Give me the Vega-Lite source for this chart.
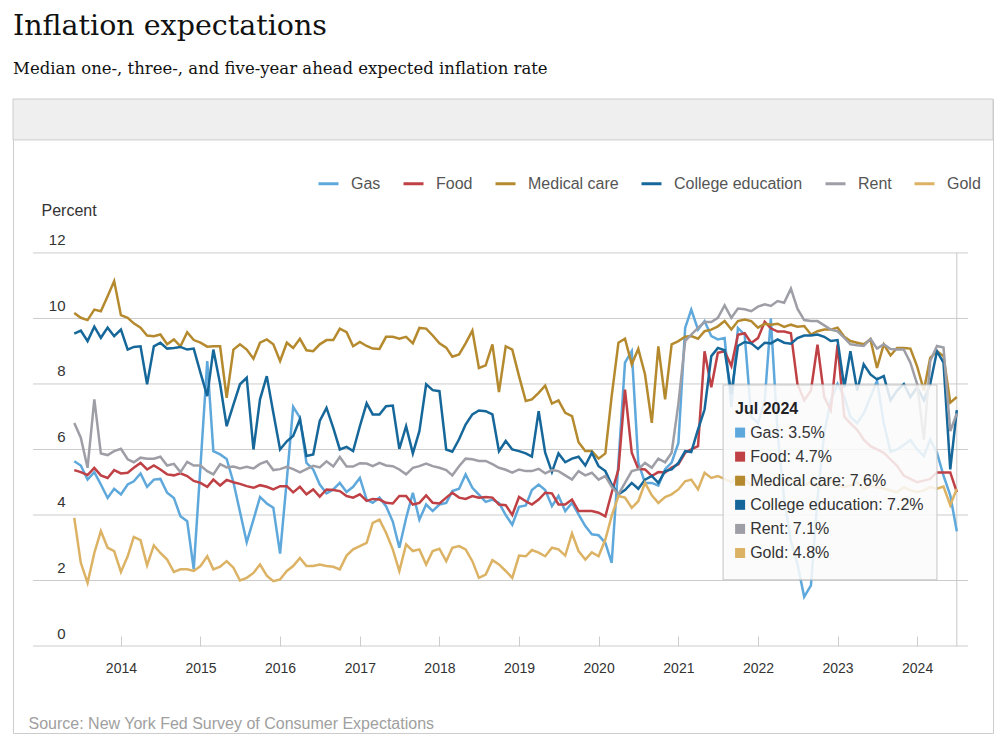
{
  "$schema": "https://vega.github.io/schema/vega-lite/v6.json",
  "description": "Inflation expectations by commodity, NY Fed SCE",
  "autosize": "none",
  "padding": {"left": 13, "top": 99, "right": 6, "bottom": 15},
  "width": 980,
  "height": 634,
  "background": "#ffffff",
  "title": {
    "text": "Inflation expectations",
    "subtitle": "Median one-, three-, and five-year ahead expected inflation rate",
    "anchor": "start",
    "frame": "group",
    "font": "DejaVu Serif",
    "fontSize": 28.5,
    "fontWeight": "normal",
    "color": "#111111",
    "subtitleFont": "DejaVu Serif",
    "subtitleFontSize": 16.5,
    "subtitleColor": "#111111",
    "subtitlePadding": 21,
    "offset": 21
  },
  "config": {"view": {"stroke": "#cccccc", "strokeWidth": 1}, "font": "Liberation Sans"},
  "datasets": {
    "series": [
      {"month": "2013-06", "Gas": 5.64, "Food": 5.37, "Medical care": 10.17, "College education": 9.54, "Rent": 6.81, "Gold": 3.91},
      {"month": "2013-07", "Gas": 5.51, "Food": 5.31, "Medical care": 10.02, "College education": 9.63, "Rent": 6.36, "Gold": 2.54},
      {"month": "2013-08", "Gas": 5.08, "Food": 5.22, "Medical care": 9.95, "College education": 9.31, "Rent": 5.44, "Gold": 1.93},
      {"month": "2013-09", "Gas": 5.31, "Food": 5.44, "Medical care": 10.27, "College education": 9.75, "Rent": 7.53, "Gold": 2.84},
      {"month": "2013-10", "Gas": 4.93, "Food": 5.21, "Medical care": 10.22, "College education": 9.41, "Rent": 5.88, "Gold": 3.51},
      {"month": "2013-11", "Gas": 4.52, "Food": 5.13, "Medical care": 10.68, "College education": 9.72, "Rent": 5.83, "Gold": 3.0},
      {"month": "2013-12", "Gas": 4.8, "Food": 5.37, "Medical care": 11.14, "College education": 9.46, "Rent": 5.95, "Gold": 2.9},
      {"month": "2014-01", "Gas": 4.63, "Food": 5.27, "Medical care": 10.1, "College education": 9.66, "Rent": 6.02, "Gold": 2.26},
      {"month": "2014-02", "Gas": 4.93, "Food": 5.29, "Medical care": 10.02, "College education": 9.05, "Rent": 5.7, "Gold": 2.74},
      {"month": "2014-03", "Gas": 5.03, "Food": 5.44, "Medical care": 9.85, "College education": 9.13, "Rent": 5.61, "Gold": 3.33},
      {"month": "2014-04", "Gas": 5.27, "Food": 5.59, "Medical care": 9.72, "College education": 9.15, "Rent": 5.75, "Gold": 3.23},
      {"month": "2014-05", "Gas": 4.86, "Food": 5.39, "Medical care": 9.48, "College education": 7.99, "Rent": 5.72, "Gold": 2.46},
      {"month": "2014-06", "Gas": 5.08, "Food": 5.51, "Medical care": 9.46, "College education": 9.15, "Rent": 5.72, "Gold": 3.07},
      {"month": "2014-07", "Gas": 5.1, "Food": 5.39, "Medical care": 9.51, "College education": 9.26, "Rent": 5.78, "Gold": 2.84},
      {"month": "2014-08", "Gas": 4.68, "Food": 5.24, "Medical care": 9.21, "College education": 9.08, "Rent": 5.51, "Gold": 2.64},
      {"month": "2014-09", "Gas": 4.52, "Food": 5.21, "Medical care": 9.36, "College education": 9.1, "Rent": 5.56, "Gold": 2.26},
      {"month": "2014-10", "Gas": 3.96, "Food": 5.27, "Medical care": 9.15, "College education": 9.13, "Rent": 5.31, "Gold": 2.34},
      {"month": "2014-11", "Gas": 3.81, "Food": 5.19, "Medical care": 9.58, "College education": 9.05, "Rent": 5.62, "Gold": 2.34},
      {"month": "2014-12", "Gas": 2.34, "Food": 5.04, "Medical care": 9.34, "College education": 9.08, "Rent": 5.51, "Gold": 2.29},
      {"month": "2015-01", "Gas": 5.5, "Food": 4.98, "Medical care": 9.26, "College education": 8.34, "Rent": 5.51, "Gold": 2.44},
      {"month": "2015-02", "Gas": 8.7, "Food": 4.86, "Medical care": 9.14, "College education": 7.63, "Rent": 5.34, "Gold": 2.74},
      {"month": "2015-03", "Gas": 5.95, "Food": 5.08, "Medical care": 9.15, "College education": 9.05, "Rent": 5.24, "Gold": 2.34},
      {"month": "2015-04", "Gas": 5.85, "Food": 4.9, "Medical care": 9.15, "College education": 8.0, "Rent": 5.55, "Gold": 2.42},
      {"month": "2015-05", "Gas": 5.71, "Food": 5.07, "Medical care": 7.58, "College education": 6.71, "Rent": 5.45, "Gold": 2.59},
      {"month": "2015-06", "Gas": 5.0, "Food": 5.0, "Medical care": 9.05, "College education": 7.37, "Rent": 5.48, "Gold": 2.39},
      {"month": "2015-07", "Gas": 4.1, "Food": 4.95, "Medical care": 9.21, "College education": 7.99, "Rent": 5.42, "Gold": 2.0},
      {"month": "2015-08", "Gas": 3.17, "Food": 4.88, "Medical care": 9.05, "College education": 8.19, "Rent": 5.47, "Gold": 2.08},
      {"month": "2015-09", "Gas": 3.86, "Food": 4.83, "Medical care": 8.77, "College education": 6.0, "Rent": 5.42, "Gold": 2.23},
      {"month": "2015-10", "Gas": 4.55, "Food": 4.91, "Medical care": 9.26, "College education": 7.53, "Rent": 5.56, "Gold": 2.49},
      {"month": "2015-11", "Gas": 4.35, "Food": 4.86, "Medical care": 9.36, "College education": 8.24, "Rent": 5.64, "Gold": 2.15},
      {"month": "2015-12", "Gas": 4.22, "Food": 4.78, "Medical care": 9.21, "College education": 7.12, "Rent": 5.37, "Gold": 1.98},
      {"month": "2016-01", "Gas": 2.82, "Food": 4.88, "Medical care": 8.7, "College education": 6.0, "Rent": 5.4, "Gold": 2.03},
      {"month": "2016-02", "Gas": 5.08, "Food": 4.88, "Medical care": 9.26, "College education": 6.25, "Rent": 5.47, "Gold": 2.29},
      {"month": "2016-03", "Gas": 7.3, "Food": 4.69, "Medical care": 9.1, "College education": 6.41, "Rent": 5.4, "Gold": 2.44},
      {"month": "2016-04", "Gas": 6.97, "Food": 4.86, "Medical care": 9.38, "College education": 6.92, "Rent": 5.3, "Gold": 2.69},
      {"month": "2016-05", "Gas": 5.59, "Food": 4.63, "Medical care": 9.03, "College education": 5.8, "Rent": 5.4, "Gold": 2.44},
      {"month": "2016-06", "Gas": 5.39, "Food": 4.78, "Medical care": 9.0, "College education": 5.85, "Rent": 5.5, "Gold": 2.44},
      {"month": "2016-07", "Gas": 4.93, "Food": 4.56, "Medical care": 9.21, "College education": 6.87, "Rent": 5.45, "Gold": 2.49},
      {"month": "2016-08", "Gas": 4.66, "Food": 4.78, "Medical care": 9.34, "College education": 7.27, "Rent": 5.64, "Gold": 2.44},
      {"month": "2016-09", "Gas": 4.78, "Food": 4.76, "Medical care": 9.34, "College education": 6.66, "Rent": 5.48, "Gold": 2.42},
      {"month": "2016-10", "Gas": 4.98, "Food": 4.73, "Medical care": 9.69, "College education": 6.0, "Rent": 5.77, "Gold": 2.34},
      {"month": "2016-11", "Gas": 4.7, "Food": 4.58, "Medical care": 9.58, "College education": 6.08, "Rent": 5.48, "Gold": 2.76},
      {"month": "2016-12", "Gas": 4.86, "Food": 4.53, "Medical care": 9.15, "College education": 5.95, "Rent": 5.48, "Gold": 2.95},
      {"month": "2017-01", "Gas": 5.13, "Food": 4.63, "Medical care": 9.28, "College education": 6.71, "Rent": 5.58, "Gold": 3.05},
      {"month": "2017-02", "Gas": 4.47, "Food": 4.43, "Medical care": 9.16, "College education": 7.41, "Rent": 5.57, "Gold": 3.15},
      {"month": "2017-03", "Gas": 4.37, "Food": 4.49, "Medical care": 9.08, "College education": 7.07, "Rent": 5.49, "Gold": 3.76},
      {"month": "2017-04", "Gas": 4.53, "Food": 4.47, "Medical care": 9.07, "College education": 7.07, "Rent": 5.59, "Gold": 3.86},
      {"month": "2017-05", "Gas": 4.27, "Food": 4.37, "Medical care": 9.44, "College education": 7.32, "Rent": 5.51, "Gold": 3.46},
      {"month": "2017-06", "Gas": 3.8, "Food": 4.35, "Medical care": 9.44, "College education": 7.34, "Rent": 5.49, "Gold": 2.95},
      {"month": "2017-07", "Gas": 3.0, "Food": 4.58, "Medical care": 9.38, "College education": 6.02, "Rent": 5.39, "Gold": 2.29},
      {"month": "2017-08", "Gas": 3.9, "Food": 4.58, "Medical care": 9.44, "College education": 6.71, "Rent": 5.24, "Gold": 3.1},
      {"month": "2017-09", "Gas": 4.68, "Food": 4.32, "Medical care": 9.24, "College education": 5.88, "Rent": 5.44, "Gold": 2.9},
      {"month": "2017-10", "Gas": 3.86, "Food": 4.37, "Medical care": 9.71, "College education": 6.56, "Rent": 5.49, "Gold": 2.95},
      {"month": "2017-11", "Gas": 4.32, "Food": 4.6, "Medical care": 9.69, "College education": 7.99, "Rent": 5.57, "Gold": 2.49},
      {"month": "2017-12", "Gas": 4.12, "Food": 4.37, "Medical care": 9.48, "College education": 7.81, "Rent": 5.49, "Gold": 2.9},
      {"month": "2018-01", "Gas": 4.32, "Food": 4.35, "Medical care": 9.24, "College education": 7.78, "Rent": 5.44, "Gold": 2.97},
      {"month": "2018-02", "Gas": 4.37, "Food": 4.53, "Medical care": 9.11, "College education": 6.0, "Rent": 5.37, "Gold": 2.59},
      {"month": "2018-03", "Gas": 4.73, "Food": 4.68, "Medical care": 8.83, "College education": 5.93, "Rent": 5.21, "Gold": 3.0},
      {"month": "2018-04", "Gas": 4.8, "Food": 4.53, "Medical care": 8.9, "College education": 6.31, "Rent": 5.49, "Gold": 3.05},
      {"month": "2018-05", "Gas": 5.24, "Food": 4.49, "Medical care": 9.24, "College education": 6.76, "Rent": 5.72, "Gold": 2.95},
      {"month": "2018-06", "Gas": 4.83, "Food": 4.58, "Medical care": 9.63, "College education": 7.07, "Rent": 5.7, "Gold": 2.59},
      {"month": "2018-07", "Gas": 4.62, "Food": 4.53, "Medical care": 8.49, "College education": 7.19, "Rent": 5.65, "Gold": 2.08},
      {"month": "2018-08", "Gas": 4.4, "Food": 4.55, "Medical care": 8.57, "College education": 7.17, "Rent": 5.65, "Gold": 2.18},
      {"month": "2018-09", "Gas": 4.47, "Food": 4.53, "Medical care": 9.21, "College education": 7.07, "Rent": 5.55, "Gold": 2.62},
      {"month": "2018-10", "Gas": 4.37, "Food": 4.32, "Medical care": 7.75, "College education": 5.95, "Rent": 5.44, "Gold": 2.49},
      {"month": "2018-11", "Gas": 4.0, "Food": 4.3, "Medical care": 9.15, "College education": 6.26, "Rent": 5.38, "Gold": 2.29},
      {"month": "2018-12", "Gas": 3.7, "Food": 4.0, "Medical care": 9.05, "College education": 6.0, "Rent": 5.29, "Gold": 2.08},
      {"month": "2019-01", "Gas": 4.25, "Food": 4.55, "Medical care": 8.24, "College education": 5.95, "Rent": 5.39, "Gold": 2.76},
      {"month": "2019-02", "Gas": 4.29, "Food": 4.42, "Medical care": 7.48, "College education": 5.88, "Rent": 5.34, "Gold": 2.74},
      {"month": "2019-03", "Gas": 4.76, "Food": 4.32, "Medical care": 7.53, "College education": 5.78, "Rent": 5.34, "Gold": 2.93},
      {"month": "2019-04", "Gas": 4.93, "Food": 4.47, "Medical care": 7.73, "College education": 7.17, "Rent": 5.41, "Gold": 2.85},
      {"month": "2019-05", "Gas": 4.76, "Food": 4.68, "Medical care": 7.95, "College education": 5.9, "Rent": 5.27, "Gold": 2.74},
      {"month": "2019-06", "Gas": 4.27, "Food": 4.66, "Medical care": 7.4, "College education": 5.31, "Rent": 5.37, "Gold": 3.0},
      {"month": "2019-07", "Gas": 4.58, "Food": 4.32, "Medical care": 7.5, "College education": 5.88, "Rent": 5.34, "Gold": 2.95},
      {"month": "2019-08", "Gas": 4.12, "Food": 4.32, "Medical care": 7.12, "College education": 5.61, "Rent": 5.21, "Gold": 2.76},
      {"month": "2019-09", "Gas": 4.37, "Food": 4.47, "Medical care": 7.02, "College education": 5.72, "Rent": 5.08, "Gold": 3.44},
      {"month": "2019-10", "Gas": 4.02, "Food": 4.12, "Medical care": 6.22, "College education": 5.78, "Rent": 5.34, "Gold": 2.9},
      {"month": "2019-11", "Gas": 3.66, "Food": 4.12, "Medical care": 5.95, "College education": 5.51, "Rent": 5.21, "Gold": 2.64},
      {"month": "2019-12", "Gas": 3.41, "Food": 4.12, "Medical care": 5.95, "College education": 5.9, "Rent": 5.29, "Gold": 2.86},
      {"month": "2020-01", "Gas": 3.38, "Food": 4.07, "Medical care": 5.72, "College education": 5.49, "Rent": 5.08, "Gold": 2.74},
      {"month": "2020-02", "Gas": 3.15, "Food": 3.96, "Medical care": 5.88, "College education": 5.34, "Rent": 5.19, "Gold": 3.25},
      {"month": "2020-03", "Gas": 2.54, "Food": 4.68, "Medical care": 7.63, "College education": 4.93, "Rent": 4.86, "Gold": 3.97},
      {"month": "2020-04", "Gas": 5.6, "Food": 5.39, "Medical care": 9.26, "College education": 4.63, "Rent": 4.63, "Gold": 4.58},
      {"month": "2020-05", "Gas": 8.65, "Food": 7.83, "Medical care": 9.38, "College education": 4.76, "Rent": 4.98, "Gold": 4.53},
      {"month": "2020-06", "Gas": 9.0, "Food": 5.9, "Medical care": 8.6, "College education": 4.98, "Rent": 5.34, "Gold": 4.22},
      {"month": "2020-07", "Gas": 5.6, "Food": 5.41, "Medical care": 9.07, "College education": 4.8, "Rent": 5.39, "Gold": 4.42},
      {"month": "2020-08", "Gas": 4.98, "Food": 5.39, "Medical care": 8.29, "College education": 5.08, "Rent": 5.59, "Gold": 4.98},
      {"month": "2020-09", "Gas": 4.98, "Food": 5.19, "Medical care": 6.81, "College education": 5.19, "Rent": 5.44, "Gold": 4.6},
      {"month": "2020-10", "Gas": 4.9, "Food": 5.31, "Medical care": 9.15, "College education": 4.98, "Rent": 5.72, "Gold": 4.37},
      {"month": "2020-11", "Gas": 5.4, "Food": 5.3, "Medical care": 7.53, "College education": 5.34, "Rent": 5.61, "Gold": 4.55},
      {"month": "2020-12", "Gas": 5.6, "Food": 5.45, "Medical care": 9.21, "College education": 5.39, "Rent": 5.9, "Gold": 4.63},
      {"month": "2021-01", "Gas": 6.2, "Food": 5.55, "Medical care": 9.31, "College education": 5.59, "Rent": 7.4, "Gold": 4.78},
      {"month": "2021-02", "Gas": 9.71, "Food": 5.9, "Medical care": 9.44, "College education": 5.95, "Rent": 9.31, "Gold": 5.03},
      {"month": "2021-03", "Gas": 10.27, "Food": 6.0, "Medical care": 9.46, "College education": 5.92, "Rent": 9.51, "Gold": 5.08},
      {"month": "2021-04", "Gas": 9.66, "Food": 6.1, "Medical care": 9.38, "College education": 6.61, "Rent": 9.71, "Gold": 4.78},
      {"month": "2021-05", "Gas": 9.92, "Food": 9.0, "Medical care": 9.61, "College education": 7.22, "Rent": 9.89, "Gold": 5.29},
      {"month": "2021-06", "Gas": 9.46, "Food": 7.9, "Medical care": 9.66, "College education": 8.85, "Rent": 9.89, "Gold": 5.13},
      {"month": "2021-07", "Gas": 9.36, "Food": 8.95, "Medical care": 9.76, "College education": 9.1, "Rent": 10.02, "Gold": 5.19},
      {"month": "2021-08", "Gas": 9.4, "Food": 9.0, "Medical care": 9.92, "College education": 9.03, "Rent": 10.4, "Gold": 5.1},
      {"month": "2021-09", "Gas": 7.3, "Food": 8.55, "Medical care": 9.66, "College education": 7.7, "Rent": 10.02, "Gold": 5.0},
      {"month": "2021-10", "Gas": 9.71, "Food": 9.5, "Medical care": 9.92, "College education": 9.16, "Rent": 10.3, "Gold": 5.2},
      {"month": "2021-11", "Gas": 9.5, "Food": 9.55, "Medical care": 9.97, "College education": 9.28, "Rent": 10.28, "Gold": 5.1},
      {"month": "2021-12", "Gas": 7.0, "Food": 9.25, "Medical care": 9.92, "College education": 9.24, "Rent": 10.22, "Gold": 4.9},
      {"month": "2022-01", "Gas": 6.8, "Food": 9.4, "Medical care": 9.72, "College education": 9.07, "Rent": 10.36, "Gold": 5.05},
      {"month": "2022-02", "Gas": 7.5, "Food": 9.9, "Medical care": 9.84, "College education": 9.26, "Rent": 10.43, "Gold": 5.15},
      {"month": "2022-03", "Gas": 10.0, "Food": 9.7, "Medical care": 9.81, "College education": 9.24, "Rent": 10.38, "Gold": 5.0},
      {"month": "2022-04", "Gas": 6.5, "Food": 9.6, "Medical care": 9.84, "College education": 9.36, "Rent": 10.53, "Gold": 4.9},
      {"month": "2022-05", "Gas": 4.5, "Food": 9.6, "Medical care": 9.74, "College education": 9.26, "Rent": 10.48, "Gold": 5.0},
      {"month": "2022-06", "Gas": 3.2, "Food": 9.55, "Medical care": 9.81, "College education": 9.23, "Rent": 10.91, "Gold": 5.1},
      {"month": "2022-07", "Gas": 2.5, "Food": 8.0, "Medical care": 9.75, "College education": 9.4, "Rent": 10.3, "Gold": 4.95},
      {"month": "2022-08", "Gas": 1.5, "Food": 7.5, "Medical care": 9.77, "College education": 9.48, "Rent": 9.95, "Gold": 4.9},
      {"month": "2022-09", "Gas": 1.85, "Food": 7.8, "Medical care": 9.51, "College education": 9.48, "Rent": 9.92, "Gold": 5.0},
      {"month": "2022-10", "Gas": 4.5, "Food": 9.2, "Medical care": 9.61, "College education": 9.51, "Rent": 9.92, "Gold": 4.85},
      {"month": "2022-11", "Gas": 6.5, "Food": 7.6, "Medical care": 9.66, "College education": 9.44, "Rent": 9.79, "Gold": 4.95},
      {"month": "2022-12", "Gas": 7.5, "Food": 7.2, "Medical care": 9.66, "College education": 9.31, "Rent": 9.66, "Gold": 5.05},
      {"month": "2023-01", "Gas": 8.0, "Food": 9.2, "Medical care": 9.72, "College education": 9.34, "Rent": 9.61, "Gold": 4.9},
      {"month": "2023-02", "Gas": 7.6, "Food": 7.0, "Medical care": 9.44, "College education": 7.9, "Rent": 9.41, "Gold": 4.85},
      {"month": "2023-03", "Gas": 7.0, "Food": 6.8, "Medical care": 9.31, "College education": 9.0, "Rent": 9.21, "Gold": 4.9},
      {"month": "2023-04", "Gas": 6.8, "Food": 6.6, "Medical care": 9.26, "College education": 7.8, "Rent": 9.18, "Gold": 5.0},
      {"month": "2023-05", "Gas": 7.1, "Food": 6.3, "Medical care": 9.21, "College education": 8.6, "Rent": 9.16, "Gold": 4.8},
      {"month": "2023-06", "Gas": 7.6, "Food": 6.1, "Medical care": 9.36, "College education": 8.29, "Rent": 9.38, "Gold": 4.9},
      {"month": "2023-07", "Gas": 8.1, "Food": 6.0, "Medical care": 8.49, "College education": 8.14, "Rent": 9.08, "Gold": 4.85},
      {"month": "2023-08", "Gas": 6.8, "Food": 5.9, "Medical care": 9.21, "College education": 8.24, "Rent": 9.21, "Gold": 4.8},
      {"month": "2023-09", "Gas": 5.93, "Food": 5.7, "Medical care": 8.87, "College education": 7.5, "Rent": 9.07, "Gold": 4.75},
      {"month": "2023-10", "Gas": 6.0, "Food": 5.5, "Medical care": 9.1, "College education": 7.8, "Rent": 9.05, "Gold": 4.7},
      {"month": "2023-11", "Gas": 6.14, "Food": 5.2, "Medical care": 9.1, "College education": 8.0, "Rent": 9.05, "Gold": 4.85},
      {"month": "2023-12", "Gas": 6.29, "Food": 5.1, "Medical care": 9.08, "College education": 7.6, "Rent": 8.65, "Gold": 4.75},
      {"month": "2024-01", "Gas": 6.0, "Food": 5.0, "Medical care": 8.54, "College education": 7.9, "Rent": 8.0, "Gold": 4.7},
      {"month": "2024-02", "Gas": 5.8, "Food": 5.05, "Medical care": 7.8, "College education": 7.5, "Rent": 6.3, "Gold": 4.75},
      {"month": "2024-03", "Gas": 6.3, "Food": 5.1, "Medical care": 8.8, "College education": 8.0, "Rent": 8.7, "Gold": 4.85},
      {"month": "2024-04", "Gas": 5.9, "Food": 5.3, "Medical care": 9.0, "College education": 9.0, "Rent": 9.16, "Gold": 4.8},
      {"month": "2024-05", "Gas": 5.2, "Food": 5.3, "Medical care": 8.85, "College education": 8.65, "Rent": 9.11, "Gold": 4.87},
      {"month": "2024-06", "Gas": 4.6, "Food": 5.3, "Medical care": 7.43, "College education": 5.39, "Rent": 6.56, "Gold": 4.3},
      {"month": "2024-07", "Gas": 3.5, "Food": 4.7, "Medical care": 7.6, "College education": 7.2, "Rent": 7.1, "Gold": 4.8}
    ],
    "grid": [{"v": 0}, {"v": 2}, {"v": 4}, {"v": 6}, {"v": 8}, {"v": 10}, {"v": 12}],
    "tip": [
      {"key": "Jul 2024", "label": "Jul 2024", "kind": "header"},
      {"key": "Gas", "label": "Gas: 3.5%", "kind": "item"},
      {"key": "Food", "label": "Food: 4.7%", "kind": "item"},
      {"key": "Medical care", "label": "Medical care: 7.6%", "kind": "item"},
      {"key": "College education", "label": "College education: 7.2%", "kind": "item"},
      {"key": "Rent", "label": "Rent: 7.1%", "kind": "item"},
      {"key": "Gold", "label": "Gold: 4.8%", "kind": "item"}
    ]
  },
  "layer": [
    {
      "layer": [
        {
          "data": {"values": [{}]},
          "mark": {"type": "rect", "fill": "#efefef", "stroke": "#cccccc", "strokeWidth": 1},
          "encoding": {
            "y": {"datum": 16.7, "type": "quantitative"},
            "y2": {"datum": 15.45}
          }
        },
        {
          "data": {"name": "grid"},
          "mark": {"type": "rule", "color": "#cccccc", "strokeWidth": 1},
          "encoding": {
            "x": {"datum": {"year": 2012, "month": 11, "date": 24}, "type": "temporal"},
            "x2": {"datum": {"year": 2024, "month": 8, "date": 22}},
            "y": {"field": "v", "type": "quantitative", "title": "Percent"}
          }
        },
        {
          "data": {"values": [{}]},
          "mark": {"type": "rule", "color": "#c8c8c8", "strokeWidth": 1},
          "encoding": {
            "x": {"datum": {"year": 2024, "month": 7, "date": 1}, "type": "temporal"},
            "y": {"datum": 0, "type": "quantitative"},
            "y2": {"datum": 12}
          }
        },
        {
          "data": {"name": "series", "format": {"parse": {"month": "date:'%Y-%m'"}}},
          "transform": [
            {"fold": ["Gas", "Food", "Medical care", "College education", "Rent", "Gold"], "as": ["series", "value"]}
          ],
          "mark": {"type": "line", "strokeWidth": 2.5, "interpolate": "linear"},
          "encoding": {
            "x": {
              "field": "month",
              "type": "temporal",
              "title": "Source: New York Fed Survey of Consumer Expectations",
              "scale": {
                "domain": [{"year": 2012, "month": 8, "date": 24}, {"year": 2024, "month": 12, "date": 14}],
                "nice": false
              },
              "axis": {
                "values": [
                  {"year": 2014, "month": 1, "date": 1}, {"year": 2015, "month": 1, "date": 1},
                  {"year": 2016, "month": 1, "date": 1}, {"year": 2017, "month": 1, "date": 1},
                  {"year": 2018, "month": 1, "date": 1}, {"year": 2019, "month": 1, "date": 1},
                  {"year": 2020, "month": 1, "date": 1}, {"year": 2021, "month": 1, "date": 1},
                  {"year": 2022, "month": 1, "date": 1}, {"year": 2023, "month": 1, "date": 1},
                  {"year": 2024, "month": 1, "date": 1}
                ],
                "format": "%Y",
                "offset": -87,
                "domain": false,
                "grid": false,
                "ticks": true,
                "tickSize": -10,
                "tickColor": "#cccccc",
                "tickWidth": 1,
                "labelPadding": 25,
                "labelBaseline": "top",
                "labelFont": "Liberation Sans",
                "labelFontSize": 14,
                "labelColor": "#333333",
                "labelFlush": false,
                "labelOverlap": false,
                "titleX": 15,
                "titleY": 82,
                "titleAlign": "left",
                "titleAnchor": "start",
                "titleBaseline": "alphabetic",
                "titleFont": "Liberation Sans",
                "titleFontSize": 16,
                "titleFontWeight": "normal",
                "titleColor": "#a0a0a0"
              }
            },
            "y": {
              "field": "value",
              "type": "quantitative",
              "title": "Percent",
              "scale": {"domain": [-2.656, 16.7], "nice": false, "zero": false},
              "axis": {
                "values": [0, 2, 4, 6, 8, 10, 12],
                "orient": "left",
                "domain": false,
                "ticks": false,
                "tickSize": 0,
                "grid": false,
                "labelAlign": "right",
                "labelBaseline": "alphabetic",
                "labelOffset": -8,
                "labelPadding": -52,
                "labelFont": "Liberation Sans",
                "labelFontSize": 15,
                "labelColor": "#333333",
                "titleAngle": 0,
                "titleX": 28,
                "titleY": 111,
                "titleAlign": "left",
                "titleBaseline": "middle",
                "titleFont": "Liberation Sans",
                "titleFontSize": 16,
                "titleFontWeight": "normal",
                "titleColor": "#333333"
              }
            },
            "color": {
              "field": "series",
              "type": "nominal",
              "title": null,
              "scale": {
                "domain": ["Gas", "Food", "Medical care", "College education", "Rent", "Gold"],
                "range": ["#5ea8dc", "#bf4045", "#b58a2f", "#16679a", "#9e9ea6", "#dcb264"]
              },
              "legend": {
                "orient": "none",
                "direction": "horizontal",
                "columns": 6,
                "legendX": 304,
                "legendY": 73,
                "padding": 0,
                "symbolType": "stroke",
                "symbolSize": 400,
                "symbolStrokeWidth": 3,
                "labelFont": "Liberation Sans",
                "labelFontSize": 16,
                "labelColor": "#555555",
                "labelOffset": 11,
                "columnPadding": 16
              }
            }
          }
        },
        {
          "data": {"values": [{}]},
          "mark": {"type": "rect", "fill": "#fafafa", "fillOpacity": 0.86, "stroke": "#c4c4c4", "strokeWidth": 1},
          "encoding": {
            "x": {"datum": {"year": 2021, "month": 7, "date": 25}, "type": "temporal"},
            "x2": {"datum": {"year": 2024, "month": 4, "date": 1}},
            "y": {"datum": 7.97, "type": "quantitative"},
            "y2": {"datum": 2.02}
          }
        }
      ]
    },
    {
      "data": {"name": "tip"},
      "layer": [
        {
          "transform": [{"filter": "datum.kind == 'item'"}],
          "mark": {"type": "square", "size": 100, "filled": true, "opacity": 1},
          "encoding": {
            "x": {"datum": {"year": 2021, "month": 10, "date": 11}, "type": "temporal"},
            "y": {
              "field": "key",
              "type": "nominal",
              "scale": {
                "type": "point",
                "domain": ["Jul 2024", "Gas", "Food", "Medical care", "College education", "Rent", "Gold"],
                "range": [309.5, 454],
                "padding": 0
              },
              "axis": null
            },
            "color": {"field": "key", "type": "nominal", "title": null}
          }
        },
        {
          "transform": [{"filter": "datum.kind == 'item'"}],
          "mark": {"type": "text", "align": "left", "baseline": "middle", "font": "Liberation Sans", "fontSize": 16, "color": "#333333"},
          "encoding": {
            "x": {"datum": {"year": 2021, "month": 11, "date": 26}, "type": "temporal"},
            "y": {"field": "key", "type": "nominal", "axis": null},
            "text": {"field": "label"}
          }
        },
        {
          "transform": [{"filter": "datum.kind == 'header'"}],
          "mark": {"type": "text", "align": "left", "baseline": "middle", "font": "Liberation Sans", "fontSize": 16, "fontWeight": "bold", "color": "#222222"},
          "encoding": {
            "x": {"datum": {"year": 2021, "month": 9, "date": 18}, "type": "temporal"},
            "y": {"field": "key", "type": "nominal", "axis": null},
            "text": {"field": "label"}
          }
        }
      ]
    }
  ],
  "resolve": {"scale": {"y": "independent"}}
}
